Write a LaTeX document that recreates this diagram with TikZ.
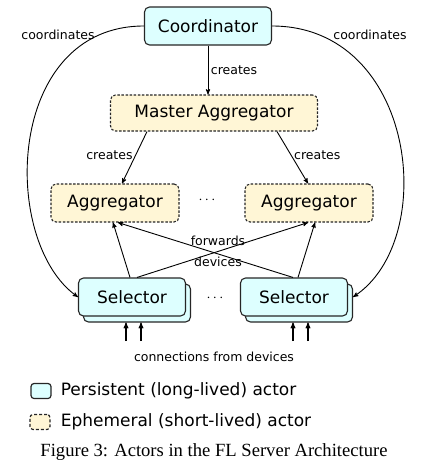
\documentclass[tikz,border=0pt]{standalone}
\usepackage{fontspec}
\setmainfont{DejaVu Sans}
\newfontfamily\capfont{Liberation Serif}
\usetikzlibrary{positioning}
\usetikzlibrary{arrows}
\usetikzlibrary{shadows}
\definecolor{persistfill}{RGB}{221,255,255}
\definecolor{ephemfill}{RGB}{255,246,214}
\tikzset{
        actor/.style={align=center, rounded corners=5pt, draw=black!85, line width=1.1pt, inner sep=0pt, font=\fontsize{17}{20}\selectfont},
        % Persistent (long-lived) actors
        actor_persistent/.style={actor, fill=persistfill},
        % Ephemeral (short-lived) actors
        actor_ephemeral/.style={actor, fill=ephemfill, dash pattern=on 2.5pt off 1.6pt},
        % Stacked selectors
        actor_stack/.style={actor_persistent, copy shadow={shadow xshift=5pt, shadow yshift=-6pt}},
        % Edge labels
        edge_label/.style={font=\fontsize{12.5}{15}\selectfont, inner sep=2.5pt},
        % Legend keys
        key_box/.style={rounded corners=3pt, line width=1.2pt, draw=black!85, minimum width=20pt, minimum height=15pt, inner sep=0pt},
        key_text/.style={font=\fontsize{17}{20}\selectfont, inner sep=0pt},
        flow/.style={->, line width=0.9pt}
}
\begin{document}
\begin{tikzpicture}[x=1pt, y=-1pt, >=stealth']
    \useasboundingbox (0,0) rectangle (437,469);
    % actors
    \node[actor_persistent, minimum width=127pt, minimum height=38pt] (coord) at (208,26) {Coordinator};
    \node[actor_ephemeral, minimum width=207pt, minimum height=36pt] (master) at (214,113) {Master Aggregator};
    \node[actor_ephemeral, minimum width=128pt, minimum height=38pt] (aggL) at (115,203) {Aggregator};
    \node[actor_ephemeral, minimum width=128pt, minimum height=38pt] (aggR) at (309,203) {Aggregator};
    \node[actor_stack, minimum width=107pt, minimum height=38pt] (selL) at (132,297) {Selector};
    \node[actor_stack, minimum width=107pt, minimum height=38pt] (selR) at (294,297) {Selector};
    \node[font=\fontsize{14}{17}\selectfont] (dotsAgg) at (207,200) {$\cdots$};
    \node[font=\fontsize{14}{17}\selectfont] (dotsSel) at (215,298) {$\cdots$};

    % creates
    \draw[flow] (coord.south) -- node[edge_label, right] {creates} (coord.south |- master.north);
    \draw[flow] ([xshift=-67pt]master.south) -- node[edge_label, left, pos=0.46] {creates} ([xshift=7pt]aggL.north);
    \draw[flow] ([xshift=63pt]master.south) -- node[edge_label, right, pos=0.46] {creates} ([xshift=-1pt]aggR.north);

    % coordinates
    \draw[flow] (coord.west) .. controls (5,26) and (0,242) .. (selL.west);
    \draw[flow] (coord.east) .. controls (416,26) and (440,240) .. ([xshift=5pt]selR.east);
    \node[edge_label] (coordL) at (58,35) {coordinates};
    \node[edge_label] (coordR) at (370,35) {coordinates};

    % forwards devices
    \draw[flow] ([xshift=-2pt]selL.north) -- ([xshift=-2pt]aggL.south);
    \draw[flow] ([xshift=5pt]selL.north) -- ([xshift=-1pt]aggR.south);
    \draw[flow] ([xshift=-1pt]selR.north) -- ([xshift=3pt]aggL.south);
    \draw[flow] ([xshift=4pt]selR.north) -- ([xshift=6pt]aggR.south);
    \node[edge_label] (fwd) at (218,241) {forwards};
    \node[edge_label] (dev) at (218,262) {devices};

    % connections from devices
    \foreach \x [count=\i] in {126,141,293,308} {
        \coordinate (in\i) at (\x,341);
        \draw[flow, line width=1.1pt] (in\i) -- ([yshift=-6pt]in\i |- selL.south);
    }
    \node[edge_label] (conn) at (214,357) {connections from devices};

    % legend
    \node[key_box, fill=persistfill] (keyP) at (41,391) {};
    \node[key_text, right=9pt of keyP] (keyPtext) {Persistent (long-lived) actor};
    \node[key_box, fill=ephemfill, dash pattern=on 3pt off 2pt] (keyE) at (40,422) {};
    \node[key_text, right=10pt of keyE] (keyEtext) {Ephemeral (short-lived) actor};

    % caption
    \node[font=\capfont\fontsize{18.6}{22}\selectfont] (caption) at (214,452) {Figure 3: Actors in the FL Server Architecture};
\end{tikzpicture}
\end{document}
